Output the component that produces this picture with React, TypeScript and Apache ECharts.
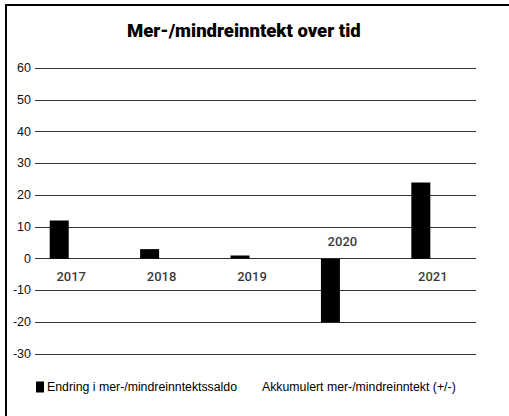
import React, { useEffect, useRef } from "react";
import * as echarts from "echarts";

const title = "Mer-/mindreinntekt over tid";
const categories = ["2017", "2018", "2019", "2020", "2021"];
const endring = [12, 3, 1, -20, 24];
const akkumulert: (number | string)[] = ["-", "-", "-", "-", "-"];
const seriesNames = ["Endring i mer-/mindreinntektssaldo", "Akkumulert mer-/mindreinntekt (+/-)"];
const yMin = -30;
const yMax = 60;
const yStep = 10;

export default function App() {
  const ref = useRef<HTMLDivElement>(null);
  useEffect(() => {
    if (!ref.current) return;
    const chart = echarts.init(ref.current, null, { renderer: "svg" });
    const font = "'Liberation Sans', sans-serif";
    chart.setOption({
      animation: false,
      backgroundColor: "#fff",
      title: {
        text: title,
        left: 122,
        top: 16,
        textStyle: { fontFamily: "Roboto, sans-serif", fontWeight: 900, fontSize: 18.5, color: "#000" },
      },
      legend: {
        left: 31,
        top: 376,
        itemWidth: 8,
        itemHeight: 11,
        itemGap: 14,
        selectedMode: false,
        textStyle: { fontFamily: font, fontSize: 12.3, color: "#000", padding: [0, 0, 0, -2] },
        data: [
          { name: seriesNames[0], icon: "rect" },
          { name: seriesNames[1], icon: "none" },
        ],
      },
      grid: [
        { left: 35, right: 33, top: 68, bottom: 62 },
        { left: 26, width: 452, top: 68, bottom: 62 },
      ],
      xAxis: [
        { type: "value", gridIndex: 0, show: false },
        {
          type: "category",
          gridIndex: 1,
          data: categories,
          axisLine: { show: false },
          axisTick: { show: false },
          axisLabel: { show: false },
        },
      ],
      yAxis: [
        {
          type: "value",
          gridIndex: 0,
          min: yMin,
          max: yMax,
          interval: yStep,
          axisLine: { show: false },
          axisTick: { show: false },
          axisLabel: { margin: 4, fontFamily: "'Liberation Sans', sans-serif", fontSize: 12.5, color: "#111" },
          splitLine: { lineStyle: { color: "#333", width: 1 } },
        },
        { type: "value", gridIndex: 1, min: yMin, max: yMax, interval: yStep, show: false, splitLine: { show: false } },
      ],
      series: [
        {
          name: seriesNames[0],
          type: "bar",
          xAxisIndex: 1,
          yAxisIndex: 1,
          data: endring,
          barWidth: 19,
          barGap: "26%",
          itemStyle: { color: "#000" },
        },
        {
          name: seriesNames[1],
          type: "bar",
          xAxisIndex: 1,
          yAxisIndex: 1,
          data: akkumulert,
          barWidth: 19,
          itemStyle: { color: "#000" },
        },
        {
          type: "scatter",
          xAxisIndex: 1,
          yAxisIndex: 1,
          symbolSize: 0,
          silent: true,
          data: endring.map((v) => ({
            value: 0,
            label: { position: v >= 0 ? "bottom" : "top" },
          })),
          label: {
            show: true,
            distance: 11,
            formatter: (p: any) => categories[p.dataIndex],
            fontFamily: "Roboto, sans-serif",
            fontWeight: 500,
            fontSize: 13,
            color: "#000",
          },
        },
      ],
    });
    return () => chart.dispose();
  }, []);
  return (
    <div style={{ position: "fixed", left: 0, top: 0, width: 509, height: 416, background: "#fff" }}>
      <div ref={ref} style={{ position: "absolute", left: 0, top: 0, width: 509, height: 416 }} />
      <div
        style={{
          position: "absolute",
          left: 5,
          top: 4,
          right: 0,
          bottom: 0,
          borderLeft: "2px solid #000",
          borderTop: "2px solid #000",
          pointerEvents: "none",
        }}
      />
    </div>
  );
}
